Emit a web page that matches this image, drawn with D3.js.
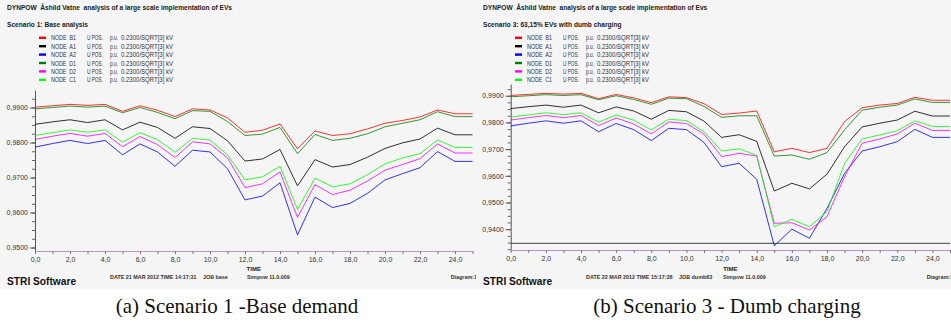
<!DOCTYPE html>
<html>
<head>
<meta charset="utf-8">
<script src="https://d3js.org/d3.v7.min.js"></script>
<style>
  html, body { margin: 0; padding: 0; background: #fff; }
  svg { display: block; }
  text { font-family: "Liberation Sans", Arial, sans-serif; white-space: pre; }
</style>
</head>
<body>
<div id="chart"></div>
<script>
// hours on the TIME axis
const hours = [0, 1, 2, 3, 4, 5, 6, 7, 8, 9, 10, 11, 12, 13, 14, 15, 16, 17, 18, 19, 20, 21, 22, 23, 24, 25];
const hourLabels = [0, 2, 4, 6, 8, 10, 12, 14, 16, 18, 20, 22, 24];

const nodeNames = ['B1', 'A1', 'A2', 'D1', 'D2', 'C1'];
const nodeColors = ['#ff0000', '#000000', '#0000ff', '#008000', '#ff00ff', '#00ff00'];

// Scenario 1: base analysis (p.u.)
const s1B1 = [0.9901, 0.9905, 0.9909, 0.9906, 0.9909, 0.9889, 0.9905, 0.9892, 0.9874, 0.9896, 0.9893, 0.9870, 0.9829, 0.9835, 0.9853, 0.9782, 0.9833, 0.9820, 0.9825, 0.9839, 0.9855, 0.9863, 0.9873, 0.9893, 0.9882, 0.9882];
const s1A1 = [0.9852, 0.9859, 0.9865, 0.9857, 0.9865, 0.9836, 0.9858, 0.9843, 0.9812, 0.9845, 0.9840, 0.9805, 0.9747, 0.9753, 0.9780, 0.9676, 0.9751, 0.9730, 0.9737, 0.9758, 0.9783, 0.9799, 0.9810, 0.9841, 0.9822, 0.9822];
const s1A2 = [0.9787, 0.9797, 0.9806, 0.9797, 0.9806, 0.9765, 0.9796, 0.9773, 0.9732, 0.9778, 0.9773, 0.9725, 0.9636, 0.9647, 0.9685, 0.9536, 0.9644, 0.9614, 0.9626, 0.9655, 0.9693, 0.9711, 0.9728, 0.9774, 0.9746, 0.9746];
const s1D1 = [0.9896, 0.9900, 0.9904, 0.9901, 0.9904, 0.9885, 0.9900, 0.9886, 0.9868, 0.9891, 0.9889, 0.9860, 0.9820, 0.9824, 0.9843, 0.9768, 0.9823, 0.9806, 0.9812, 0.9825, 0.9845, 0.9855, 0.9865, 0.9888, 0.9874, 0.9874];
const s1D2 = [0.9809, 0.9818, 0.9826, 0.9818, 0.9826, 0.9788, 0.9817, 0.9794, 0.9757, 0.9802, 0.9796, 0.9756, 0.9671, 0.9682, 0.9716, 0.9586, 0.9680, 0.9651, 0.9664, 0.9690, 0.9721, 0.9737, 0.9754, 0.9796, 0.9770, 0.9770];
const s1C1 = [0.9820, 0.9828, 0.9836, 0.9829, 0.9836, 0.9801, 0.9828, 0.9808, 0.9772, 0.9812, 0.9807, 0.9765, 0.9693, 0.9702, 0.9732, 0.9609, 0.9698, 0.9673, 0.9682, 0.9708, 0.9739, 0.9756, 0.9768, 0.9807, 0.9786, 0.9786];

// Scenario 3: 63,15% EVs with dumb charging (p.u.)
const s3B1 = [0.9901, 0.9905, 0.9909, 0.9906, 0.9909, 0.9889, 0.9905, 0.9892, 0.9874, 0.9896, 0.9893, 0.9870, 0.9830, 0.9835, 0.9843, 0.9690, 0.9703, 0.9687, 0.9703, 0.9803, 0.9855, 0.9865, 0.9871, 0.9894, 0.9883, 0.9883];
const s3A1 = [0.9852, 0.9859, 0.9865, 0.9857, 0.9865, 0.9836, 0.9858, 0.9843, 0.9812, 0.9845, 0.9840, 0.9805, 0.9744, 0.9754, 0.9729, 0.9543, 0.9572, 0.9551, 0.9606, 0.9709, 0.9783, 0.9797, 0.9809, 0.9842, 0.9824, 0.9824];
const s3A2 = [0.9787, 0.9797, 0.9806, 0.9797, 0.9806, 0.9765, 0.9796, 0.9773, 0.9732, 0.9778, 0.9773, 0.9725, 0.9634, 0.9647, 0.9587, 0.9338, 0.9400, 0.9366, 0.9478, 0.9609, 0.9693, 0.9709, 0.9728, 0.9774, 0.9744, 0.9744];
const s3D1 = [0.9896, 0.9900, 0.9904, 0.9901, 0.9904, 0.9885, 0.9900, 0.9886, 0.9868, 0.9891, 0.9889, 0.9860, 0.9819, 0.9825, 0.9825, 0.9674, 0.9678, 0.9662, 0.9687, 0.9772, 0.9846, 0.9857, 0.9865, 0.9888, 0.9875, 0.9875];
const s3D2 = [0.9809, 0.9818, 0.9826, 0.9818, 0.9826, 0.9788, 0.9817, 0.9794, 0.9757, 0.9802, 0.9796, 0.9756, 0.9672, 0.9684, 0.9674, 0.9422, 0.9424, 0.9397, 0.9447, 0.9597, 0.9722, 0.9738, 0.9757, 0.9797, 0.9770, 0.9770];
const s3C1 = [0.9820, 0.9828, 0.9836, 0.9829, 0.9836, 0.9801, 0.9828, 0.9808, 0.9772, 0.9812, 0.9807, 0.9765, 0.9693, 0.9701, 0.9677, 0.9409, 0.9437, 0.9409, 0.9466, 0.9647, 0.9738, 0.9753, 0.9769, 0.9806, 0.9785, 0.9785];

const s1Ticks = [0.95, 0.96, 0.97, 0.98, 0.99];
const s3Ticks = [0.94, 0.95, 0.96, 0.97, 0.98, 0.99];
const s3LowLine = 0.9347;

const width = 951;
const height = 325;

const locale = d3.formatLocale({ decimal: ',', thousands: '.', grouping: [3], currency: ['', ''] });
const fmtY = locale.format('.4f');
const fmtX = locale.format('.1f');

const svg = d3.select('#chart')
    .append('svg')
    .attr('width', width)
    .attr('height', height);

function drawPanel(cfg) {
    const g = svg.append('g').attr('transform', `translate(${cfg.left},0)`);

    // panel background
    g.append('rect')
        .attr('x', 0).attr('y', 0)
        .attr('width', cfg.width).attr('height', 289)
        .attr('fill', '#f5f5f5');

    // header texts
    g.append('text')
        .attr('x', 7).attr('y', 9.5)
        .style('font-size', '6.6px').style('font-weight', 'bold').attr('fill', '#222')
        .text(cfg.header);
    g.append('text')
        .attr('x', 7).attr('y', 26.5)
        .style('font-size', '6.6px').style('font-weight', 'bold').attr('fill', '#222')
        .text(cfg.subtitle);

    // legend
    const legend = g.append('g')
        .selectAll('g')
        .data(nodeNames)
        .enter().append('g')
        .attr('transform', (d, i) => `translate(0,${37.8 + i * 8.4})`);

    legend.append('line')
        .attr('x1', 39).attr('x2', 46)
        .attr('stroke', (d, i) => nodeColors[i])
        .attr('stroke-width', 2.4);

    // the plot program uses a narrow font, so each piece is squeezed to its width
    const legendParts = [
        { x: 51, w: 25, t: d => `NODE  ${d}` },
        { x: 87, w: 16, t: () => 'U POS.' },
        { x: 110, w: 8, t: () => 'p.u.' },
        { x: 121, w: 52, t: () => '0.2300/SQRT[3] kV' }
    ];
    legendParts.forEach(p => {
        legend.append('text')
            .attr('x', p.x).attr('y', 2.5)
            .attr('textLength', p.w)
            .attr('lengthAdjust', 'spacingAndGlyphs')
            .style('font-size', '7px').attr('fill', '#333')
            .text(p.t);
    });

    const x = d3.scaleLinear().domain([0, 25]).range(cfg.xRange);
    const y = d3.scaleLinear().domain(cfg.yDomain).range(cfg.yRange);

    // y axis: minor ticks, then major ticks with labels
    const minor = d3.range(cfg.yTicks[0] - 0.0075, cfg.yDomain[1], 0.0025)
        .filter(v => v >= cfg.yDomain[0] && v <= cfg.yDomain[1]);
    g.append('g')
        .attr('transform', `translate(${cfg.xRange[0]},0)`)
        .call(d3.axisLeft(y).tickValues(minor).tickSize(3).tickSizeOuter(0).tickFormat(''))
        .call(a => a.selectAll('line').attr('stroke', '#666'))
        .call(a => a.select('.domain').attr('stroke', '#555'));

    g.append('g')
        .attr('transform', `translate(${cfg.xRange[0]},0)`)
        .call(d3.axisLeft(y).tickValues(cfg.yTicks).tickSize(5).tickSizeOuter(0).tickFormat(fmtY).tickPadding(2))
        .call(a => a.select('.domain').remove())
        .call(a => a.selectAll('line').attr('stroke', '#555'))
        .call(a => a.selectAll('text')
            .style('font-family', '"Liberation Sans", Arial, sans-serif')
            .style('font-size', '7px').attr('fill', '#333'));

    // optional dark line near the bottom
    if (cfg.lowLine !== undefined) {
        g.append('line')
            .attr('x1', x(0)).attr('x2', x(25))
            .attr('y1', y(cfg.lowLine)).attr('y2', y(cfg.lowLine))
            .attr('stroke', '#444').attr('stroke-width', 1);
    }

    // x axis (TIME)
    const xAxisY = cfg.yRange[0];
    g.append('g')
        .attr('transform', `translate(0,${xAxisY})`)
        .call(d3.axisBottom(x).tickValues(hours).tickSize(3).tickSizeOuter(0).tickFormat(''))
        .call(a => a.selectAll('line').attr('stroke', '#8a6a8a'))
        .call(a => a.select('.domain').attr('stroke', '#b795c0'));
    g.append('g')
        .attr('transform', `translate(0,${xAxisY})`)
        .call(d3.axisBottom(x).tickValues(hourLabels).tickSize(0).tickPadding(6).tickFormat(fmtX))
        .call(a => a.select('.domain').remove())
        .call(a => a.selectAll('text')
            .style('font-family', '"Liberation Sans", Arial, sans-serif')
            .style('font-size', '7px').attr('fill', '#333'));

    g.append('text')
        .attr('x', (cfg.xRange[0] + cfg.xRange[1]) / 2).attr('y', 270.5)
        .attr('text-anchor', 'middle')
        .style('font-size', '6px').style('font-weight', 'bold').attr('fill', '#222')
        .text('TIME');

    // curves
    const line = d3.line()
        .x((d, i) => x(hours[i]))
        .y(d => y(d));

    g.append('g')
        .selectAll('path')
        .data(cfg.series)
        .enter().append('path')
        .attr('d', d => line(d))
        .attr('fill', 'none')
        .attr('stroke', (d, i) => nodeColors[i])
        .attr('stroke-width', 1)
        .attr('stroke-opacity', 0.8);

    // footer
    g.append('text')
        .attr('x', 7).attr('y', 285)
        .style('font-size', '10.2px').style('font-weight', 'bold').attr('fill', '#111')
        .text('STRI Software');
    g.append('text')
        .attr('x', 110).attr('y', 279)
        .style('font-size', '5.4px').style('font-weight', 'bold').attr('fill', '#333')
        .text(cfg.date);
    g.append('text')
        .attr('x', 203).attr('y', 279)
        .style('font-size', '5.4px').style('font-weight', 'bold').attr('fill', '#333')
        .text(cfg.job);
    g.append('text')
        .attr('x', 247).attr('y', 279)
        .style('font-size', '5.4px').style('font-weight', 'bold').attr('fill', '#333')
        .text('Simpow 11.0.009');
    g.append('text')
        .attr('x', 477).attr('y', 279)
        .attr('text-anchor', 'end')
        .style('font-size', '5.4px').style('font-weight', 'bold').attr('fill', '#333')
        .text('Diagram:1');

    // caption below the panel
    g.append('text')
        .attr('x', cfg.captionX).attr('y', 312.5)
        .attr('text-anchor', 'middle')
        .style('font-family', '"Liberation Serif", "DejaVu Serif", serif')
        .style('font-size', '21px').attr('fill', '#111')
        .text(cfg.caption);
}

drawPanel({
    left: 0,
    width: 478,
    header: 'DYNPOW  Åshild Vatne  analysis of a large scale implementation of EVs',
    subtitle: 'Scenario 1: Base analysis',
    xRange: [35, 472.5],
    yDomain: [0.949, 0.995],
    yRange: [251, 90],
    yTicks: s1Ticks,
    series: [s1B1, s1A1, s1A2, s1D1, s1D2, s1C1],
    date: 'DATE 21 MAR 2012 TIME 14:17:31',
    job: 'JOB base',
    caption: '(a) Scenario 1 -Base demand',
    captionX: 237
});

drawPanel({
    left: 476,
    width: 475,
    header: 'DYNPOW  Åshild Vatne  analysis of a large scale implementation of Evs',
    subtitle: 'Scenario 3: 63,15% EVs with dumb charging',
    xRange: [34.7, 474],
    yDomain: [0.9322, 0.9944],
    yRange: [250, 84],
    yTicks: s3Ticks,
    lowLine: s3LowLine,
    series: [s3B1, s3A1, s3A2, s3D1, s3D2, s3C1],
    date: 'DATE 22 MAR 2012 TIME 15:17:38',
    job: 'JOB dumb63',
    caption: '(b) Scenario 3 - Dumb charging',
    captionX: 251
});
</script>
</body>
</html>
